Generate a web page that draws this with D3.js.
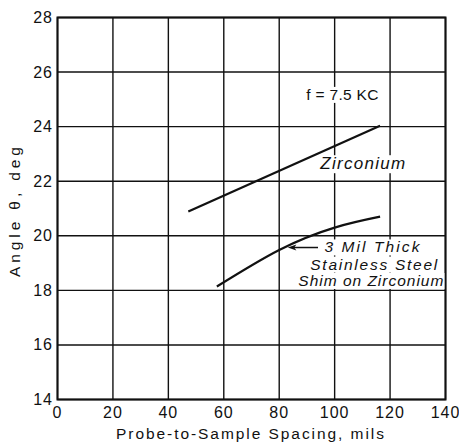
<!DOCTYPE html>
<html>
<head>
<meta charset="utf-8">
<script src="https://cdn.jsdelivr.net/npm/d3@7/dist/d3.min.js"></script>
<style>
  html, body { margin: 0; padding: 0; background: #fff; }
  svg { display: block; }
  text { font-family: "Liberation Sans", Arial, sans-serif; fill: #111; }
</style>
</head>
<body>
<svg id="chart" width="459" height="444"></svg>
<script>
// Phase angle vs. probe-to-sample spacing at f = 7.5 kc
const xTicks = [0, 20, 40, 60, 80, 100, 120, 140];
const yTicks = [14, 16, 18, 20, 22, 24, 26, 28];

// Bare zirconium (straight line)
const zircSpacing = [47.2, 116.4];
const zircAngle   = [20.89, 24.03];

// 3 mil stainless steel shim on zirconium
const shimSpacing = [57.5, 80, 100, 116.4];
const shimAngle   = [18.14, 19.48, 20.3, 20.7];

const svg = d3.select("#chart");
const plotL = 57.5, plotT = 17.5, plotR = 445.5, plotB = 399.5;

const x = d3.scaleLinear().domain([0, 140]).range([plotL, plotR]);
const y = d3.scaleLinear().domain([14, 28]).range([plotB, plotT]);

// grid
const grid = svg.append("g").attr("stroke", "#111").attr("stroke-width", 1.4);
grid.selectAll("line.v").data(xTicks).join("line")
  .attr("class", "v")
  .attr("x1", d => x(d)).attr("x2", d => x(d))
  .attr("y1", plotT).attr("y2", plotB);
grid.selectAll("line.h").data(yTicks).join("line")
  .attr("class", "h")
  .attr("x1", plotL).attr("x2", plotR)
  .attr("y1", d => y(d)).attr("y2", d => y(d));

// frame
svg.append("rect")
  .attr("x", plotL).attr("y", plotT)
  .attr("width", plotR - plotL).attr("height", plotB - plotT)
  .attr("fill", "none").attr("stroke", "#111").attr("stroke-width", 2);

// tick labels
svg.append("g").selectAll("text").data(xTicks).join("text")
  .attr("x", d => x(d)).attr("y", 418)
  .attr("text-anchor", "middle")
  .attr("font-size", 16).attr("letter-spacing", 1)
  .text(d => d);
svg.append("g").selectAll("text").data(yTicks).join("text")
  .attr("x", 53).attr("y", d => y(d) + 5.5)
  .attr("text-anchor", "end")
  .attr("font-size", 16).attr("letter-spacing", 1)
  .text(d => d);

// axis titles
svg.append("text")
  .attr("x", 116).attr("y", 439)
  .attr("font-size", 15.5)
  .attr("textLength", 268).attr("lengthAdjust", "spacing")
  .text("Probe-to-Sample Spacing, mils");
svg.append("text")
  .attr("transform", "translate(20,277) rotate(-90)")
  .attr("font-size", 15.5)
  .attr("textLength", 130).attr("lengthAdjust", "spacing")
  .text("Angle θ, deg");

// curves
const straight = d3.line().x(d => x(d[0])).y(d => y(d[1]));
const smooth = d3.line().x(d => x(d[0])).y(d => y(d[1])).curve(d3.curveNatural);
svg.append("path")
  .datum(d3.zip(zircSpacing, zircAngle))
  .attr("d", straight)
  .attr("fill", "none").attr("stroke", "#111").attr("stroke-width", 2.2);
svg.append("path")
  .datum(d3.zip(shimSpacing, shimAngle))
  .attr("d", smooth)
  .attr("fill", "none").attr("stroke", "#111").attr("stroke-width", 2.2);

// annotations with white knock-out behind the lettering
function label(str, xv, yv, size, width, italic) {
  const g = svg.append("g");
  const t = g.append("text")
    .attr("x", x(xv)).attr("y", y(yv))
    .attr("font-size", size)
    .attr("font-style", italic ? "italic" : "normal")
    .attr("textLength", width).attr("lengthAdjust", "spacing")
    .text(str);
  const b = t.node().getBBox();
  g.insert("rect", "text")
    .attr("x", b.x - 1).attr("y", b.y + 1)
    .attr("width", b.width + 2).attr("height", b.height - 1)
    .attr("fill", "#fff");
  return t;
}

label("f = 7.5 KC", 89.8, 24.98, 15.5, 72, false);
label("Zirconium", 94.8, 22.44, 17, 85, true);
label("3 Mil Thick", 96.3, 19.39, 15.5, 95, true);
label("Stainless Steel", 91.2, 18.76, 15.5, 127, true);
label("Shim on Zirconium", 86.9, 18.16, 15.5, 145, true);

// leader arrow pointing to the shim curve
const ay = 19.57;
svg.append("line")
  .attr("x1", x(94.0)).attr("x2", x(84.8))
  .attr("y1", y(ay)).attr("y2", y(ay))
  .attr("stroke", "#111").attr("stroke-width", 1.5);
svg.append("path")
  .attr("d", `M${x(83.1)},${y(ay)} L${x(86.2)},${y(ay) - 3} L${x(85.4)},${y(ay)} L${x(86.2)},${y(ay) + 3} Z`)
  .attr("fill", "#111");
</script>
</body>
</html>
